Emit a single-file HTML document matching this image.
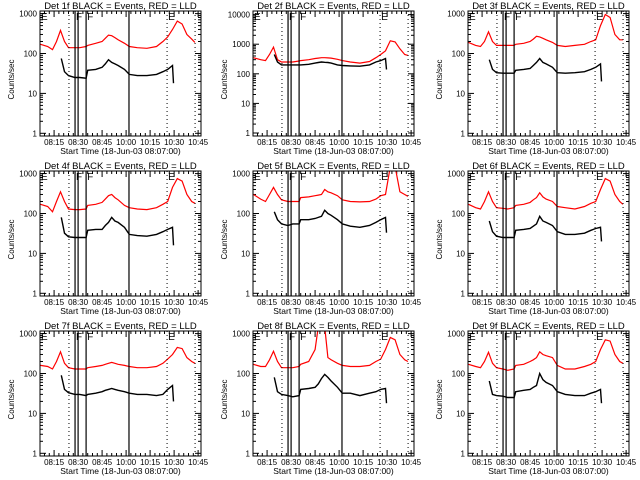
<!DOCTYPE html>
<html><head><meta charset="utf-8"><style>
html,body{margin:0;padding:0;background:#fff;}
svg{display:block;font-family:"Liberation Sans",sans-serif;}
</style></head><body>
<svg id="c" width="640" height="480" xmlns="http://www.w3.org/2000/svg"></svg>
<script>
const detNames = ["1f","2f","3f","4f","5f","6f","7f","8f","9f"];
const yMaxDecade = [3,4,3,3,3,3,3,3,3];
const redTimes = [-0.5,4,7,9.5,12,14.5,17,21,24,28,29,34,38,40,42,44,46,48,52,55,60,66,72,76,79,82,85,88,91,94,96];
const red1 = [170,150,125,200,380,200,140,140,140,150,160,180,200,240,290,280,250,220,180,150,140,135,150,200,260,400,650,550,300,230,190];
const red2 = [350,300,280,450,800,300,250,250,250,270,280,300,330,340,350,350,345,340,310,280,250,230,260,350,450,600,1300,1200,700,450,420];
const red3 = [190,160,150,200,350,200,160,160,160,160,170,180,200,230,270,260,240,220,190,160,150,160,170,200,220,500,950,800,300,220,220];
const red4 = [170,150,110,200,350,200,130,125,125,130,160,170,190,230,280,300,250,220,160,140,130,125,140,170,200,450,750,650,300,200,180];
const red5 = [300,230,200,300,450,300,220,200,200,200,250,260,280,290,300,400,350,330,280,220,200,195,200,230,280,300,1500,1500,350,300,270];
const red6 = [170,140,130,200,350,200,140,135,130,140,160,170,190,220,250,330,260,230,200,150,140,130,150,180,200,400,750,650,300,200,170];
const red7 = [160,150,130,200,350,180,140,130,130,130,140,150,160,170,180,190,180,170,160,150,140,140,150,180,230,300,450,420,250,200,180];
const red8 = [170,150,150,220,360,200,140,140,140,150,170,200,400,1500,1500,1500,250,220,180,160,150,150,160,200,230,400,800,700,300,220,200];
const red9 = [170,150,140,200,340,180,140,130,120,130,160,170,200,220,250,350,300,280,250,160,130,130,150,170,200,400,700,650,300,200,180];
const blackTimes = [12.5,14.5,17,21,24,28,29,34,38,40,42,44,46,48,52,55,60,66,72,76,79,82,82.6];
const black1 = [75,35,28,25,25,24,38,40,45,55,70,60,55,50,40,30,28,28,30,35,40,50,18];
const black2 = [450,250,200,200,200,200,200,210,230,240,250,245,240,230,200,190,185,180,200,250,280,330,140];
const black3 = [70,40,33,32,32,32,38,40,42,50,60,75,60,55,45,33,32,33,35,40,45,55,20];
const black4 = [80,32,26,25,25,25,38,40,40,50,60,80,65,60,45,30,28,27,30,35,40,45,16];
const black5 = [110,70,55,50,55,55,70,70,75,80,85,120,100,90,70,55,48,45,50,60,70,80,33];
const black6 = [65,35,27,25,25,25,38,40,42,48,55,85,65,60,50,35,30,30,32,38,42,45,20];
const black7 = [90,40,33,30,30,28,30,32,35,38,40,42,40,38,35,32,30,30,28,30,40,50,20];
const black8 = [80,35,30,28,26,28,40,42,45,55,75,95,80,65,45,32,32,28,32,35,40,42,18];
const black9 = [65,30,28,27,25,25,35,38,40,45,50,100,70,60,50,35,30,28,28,32,35,40,18];
const redSeries = [red1,red2,red3,red4,red5,red6,red7,red8,red9];
const blackSeries = [black1,black2,black3,black4,black5,black6,black7,black8,black9];
const xTickTimes = [8,23,38,53,68,83,98];
const xTickLabels = ["08:15","08:30","08:45","10:00","10:15","10:30","10:45"];
const dottedTimes = [17.3,78.6,96.1];
const solidTimes = [21.1,23,28,54.8];

const NS="http://www.w3.org/2000/svg";
const svg=document.getElementById('c');
function mk(tag,attrs,parent){const e=document.createElementNS(NS,tag);for(const k in attrs)e.setAttribute(k,attrs[k]);(parent||svg).appendChild(e);return e;}
const colL=[40,253,468], rowT=[11,171,331], W=161, H=125;
const T0=-0.8, T1=99.8;

for(let p=0;p<9;p++){
  const L=colL[p%3], Tp=rowT[Math.floor(p/3)], R=L+W, B=Tp+H;
  const top=yMaxDecade[p];
  const decPx = top===4 ? 29.6 : 39.9;
  const yOne = top===4 ? Tp+122 : Tp+122.3;
  const xs=t=>L+(t-T0)/(T1-T0)*W;
  const ys=v=>yOne-Math.log10(v)*decPx;
  const g=mk('g',{});
  
  
  const cid='clip'+p;
  const cp=mk('clipPath',{id:cid},g); mk('rect',{x:L,y:Tp,width:W,height:H},cp);
  const title=mk('text',{x:L+W/2,y:Tp-2,'text-anchor':'middle','font-size':'9.5'},g);
  title.textContent='Det '+detNames[p]+' BLACK = Events, RED = LLD';
  
  
  const yl=mk('text',{x:0,y:0,'text-anchor':'middle','font-size':'8',transform:`translate(${L-26},${Tp+H/2+6}) rotate(-90)`},g);
  yl.textContent='Counts/sec';
  
  
  for(let d=0;d<=top;d++){
    const yy=ys(Math.pow(10,d));
    mk('line',{x1:L,x2:L+6,y1:yy,y2:yy,stroke:'#000'},g);
    mk('line',{x1:R,x2:R-6,y1:yy,y2:yy,stroke:'#000'},g);
    const tl=mk('text',{x:L-3,y:yy+3,'text-anchor':'end','font-size':'8'},g);
    tl.textContent=String(Math.pow(10,d));
    
    
    if(d<top){for(let m=2;m<10;m++){const ym=ys(m*Math.pow(10,d));
      mk('line',{x1:L,x2:L+3,y1:ym,y2:ym,stroke:'#000'},g);
      mk('line',{x1:R,x2:R-3,y1:ym,y2:ym,stroke:'#000'},g);}}
  }
  xTickTimes.forEach((t,i)=>{
    const xx=xs(t);
    mk('line',{x1:xx,x2:xx,y1:B,y2:B-6,stroke:'#000'},g);
    mk('line',{x1:xx,x2:xx,y1:Tp,y2:Tp+6,stroke:'#000'},g);
    for(let k=1;k<5;k++){const xm=xs(t-k*3); if(xm>L){mk('line',{x1:xm,x2:xm,y1:B,y2:B-3,stroke:'#000'},g);mk('line',{x1:xm,x2:xm,y1:Tp,y2:Tp+3,stroke:'#000'},g);}}
    const tl=mk('text',{x:xx,y:B+9,'text-anchor':'middle','font-size':'8'},g);
    tl.textContent=xTickLabels[i];
    
    
  });
  const xt=mk('text',{x:L+W/2,y:B+18,'text-anchor':'middle','font-size':'8.5'},g);
  xt.textContent='Start Time (18-Jun-03 08:07:00)';
  
  
  const rp=redTimes.map((t,i)=>xs(t).toFixed(1)+','+ys(redSeries[p][i]).toFixed(1)).join(' ');
  const rl=mk('polyline',{points:rp,fill:'none',stroke:'#ff0000','stroke-width':'1.2','clip-path':`url(#${cid})`},g);
  
  
  const bp=blackTimes.map((t,i)=>xs(t).toFixed(1)+','+ys(blackSeries[p][i]).toFixed(1)).join(' ');
  const bl=mk('polyline',{points:bp,fill:'none',stroke:'#000','stroke-width':'1.4','clip-path':`url(#${cid})`},g);
  
  
  dottedTimes.forEach(t=>{const xx=xs(t);mk('line',{x1:xx,x2:xx,y1:Tp,y2:B,stroke:'#000','stroke-dasharray':'1,3'},g);});
  solidTimes.forEach(t=>{const xx=xs(t);mk('line',{x1:xx,x2:xx,y1:Tp,y2:B,stroke:'#000','stroke-width':'1.2'},g);});
  [['E',L+1],['F',xs(21.1)+1],['F',xs(28)+1],['E',xs(78.6)+1]].forEach(m=>{
    const tx=mk('text',{x:m[1],y:Tp+9,'font-size':'10'},g);
    tx.textContent=m[0];
    
    
  });
  const box=mk('rect',{x:L,y:Tp,width:W,height:H,fill:'none',stroke:'#000'},g);
  
  
}
</script>
</body></html>
